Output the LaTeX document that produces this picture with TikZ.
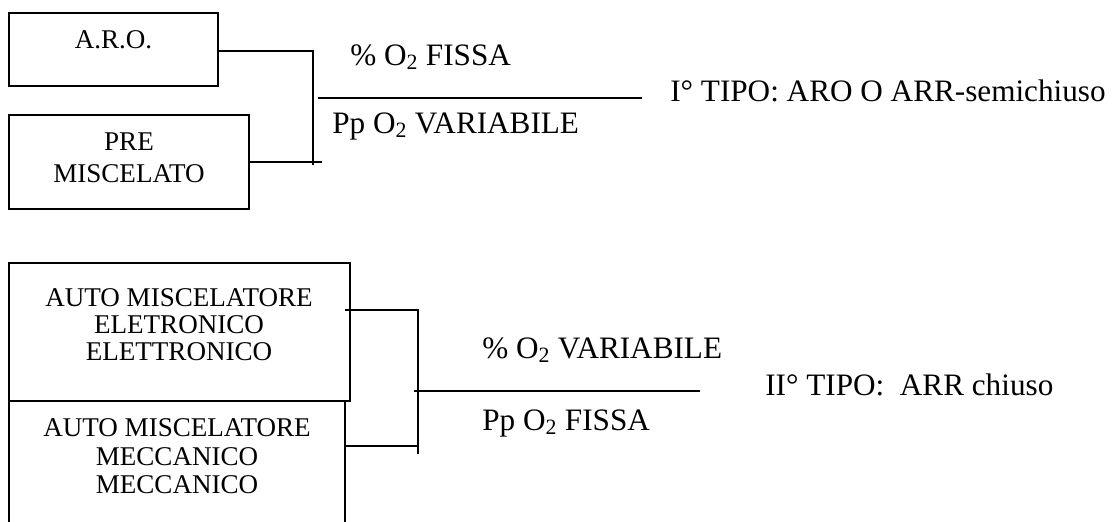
\documentclass[tikz,border=0pt]{standalone}
\usepackage{fontspec}
\setmainfont{Liberation Serif}
\begin{document}
\begin{tikzpicture}[x=0.75pt,y=-0.75pt,
  boxnode/.style={draw, line width=1.5pt, inner sep=0pt, outer sep=0pt, rectangle},
  conn/.style={line width=1.5pt},
  boxtext/.style={font=\fontsize{20.3pt}{21pt}\selectfont, anchor=base, inner sep=0pt},
  lbl/.style={font=\fontsize{23.4pt}{28pt}\selectfont, anchor=base west, inner sep=0pt}]
\useasboundingbox (0,0) rectangle (1119,521);
\clip (0,0) rectangle (1119,521);

% ---- first group: open / semi-closed circuits
\node[boxnode, minimum width={209*0.75pt}, minimum height={73*0.75pt}] (aro) at (113.5,49.5) {};
\node[boxnode, minimum width={240*0.75pt}, minimum height={94*0.75pt}] (pre) at (129,162) {};
\node[boxtext] (aroT) at (113.5,48) {A.R.O.};
\node[boxtext] (preT1) at (129,150) {PRE};
\node[boxtext] (preT2) at (129,182) {MISCELATO};

\coordinate (busAtop) at (313,51);
\coordinate (busAbot) at (313,165);
\coordinate (preEnd) at (322,162);
\coordinate (mainAL) at (318,98);
\coordinate (mainAR) at (642,98);
\draw[conn] (aro.east |- busAtop) -- (busAtop) -- (busAbot);
\draw[conn] (pre.east) -- (preEnd);
\draw[conn] (mainAL) -- (mainAR);

\node[lbl] (fixA) at (350,65) {\% O\textsubscript{2} FISSA};
\node[lbl] (varA) at (332,133) {Pp O\textsubscript{2} VARIABILE};
\node[lbl] (typeA) at (670,101) {I° TIPO: ARO O ARR-semichiuso};

% ---- second group: closed circuits
\node[boxnode, minimum width={341*0.75pt}, minimum height={138*0.75pt}] (ele) at (179.5,332) {};
\node[boxnode, minimum width={336*0.75pt}, minimum height={170*0.75pt}] (mec) at (177,486) {};
\node[boxtext] (eleT1) at (179,306) {AUTO MISCELATORE};
\node[boxtext] (eleT2) at (179,333) {ELETRONICO};
\node[boxtext] (eleT3) at (179,360) {ELETTRONICO};
\node[boxtext] (mecT1) at (177,436) {AUTO MISCELATORE};
\node[boxtext] (mecT2) at (177,465) {MECCANICO};
\node[boxtext] (mecT3) at (177,493) {MECCANICO};

\coordinate (eleStart) at (345,310);
\coordinate (busBtop) at (418,310);
\coordinate (busBbot) at (418,454);
\coordinate (mecJoin) at (418,446);
\coordinate (mainBL) at (414,391);
\coordinate (mainBR) at (700,391);
\draw[conn] (eleStart) -- (busBtop) -- (busBbot);
\draw[conn] (mec.east |- mecJoin) -- (mecJoin);
\draw[conn] (mainBL) -- (mainBR);

\node[lbl] (varB) at (482,358) {\% O\textsubscript{2} VARIABILE};
\node[lbl] (fixB) at (482,430) {Pp O\textsubscript{2} FISSA};
\node[lbl] (typeB) at (765,395) {II° TIPO:\ \ ARR chiuso};
\end{tikzpicture}
\end{document}
